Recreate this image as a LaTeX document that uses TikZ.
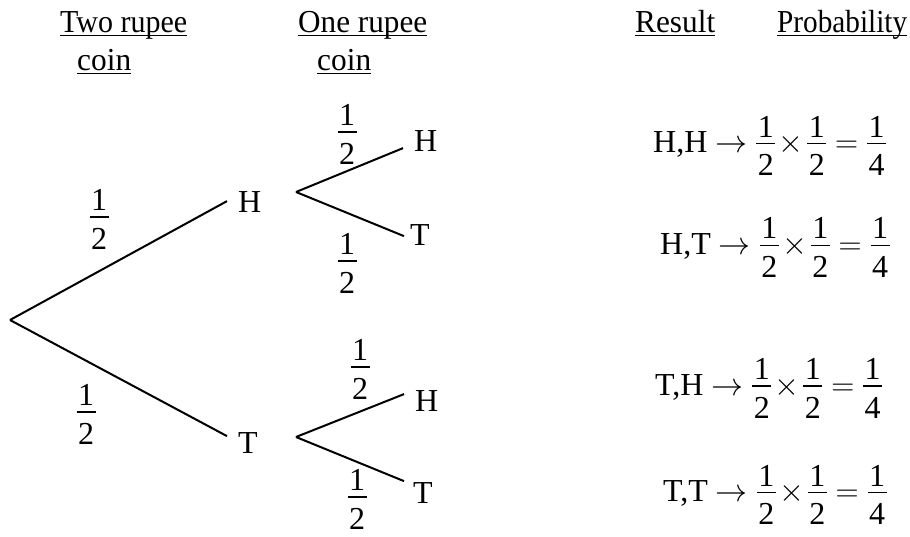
\RequirePackage{fix-cm}
\documentclass[tikz,border=0pt]{standalone}
\usepackage{amsmath}
\usepackage{graphicx}
\usepackage{fontspec}
\setmainfont{Liberation Serif}
% heading: text set to a given width, underlined just under the baseline
\newcommand\ulbox[2]{%
  \setbox0\hbox{\resizebox{#1}{\height}{#2}}%
  \rlap{\vrule height -2pt depth 3.5pt width \wd0}\box0}
% stacked fraction with its bar at the centre line
\newcommand\fracbox[2]{%
  \setbox1\hbox{#1}\setbox2\hbox{#2}%
  \dimen0=\ifdim\wd1>\wd2 \wd1\else\wd2\fi
  \advance\dimen0 by 3pt%
  \rlap{\hbox to\dimen0{\hss\raise0.2em\box1\hss}}%
  \rlap{\hbox to\dimen0{\hss\lower1.0em\box2\hss}}%
  \vrule height0.7pt depth0.7pt width\dimen0}
\newcommand\fr[2]{\mathord{\text{\raisebox{0.28em}{\fracbox{#1}{#2}}}}}
\newcommand\half{\fr{1}{2}}
\newcommand\by{\mkern-2mu\times\mkern-2mu}
\begin{document}
\begin{tikzpicture}[x=1pt,y=-1pt,
  font=\fontsize{32}{38}\selectfont,
  branch/.style={line width=2pt},
  leaf/.style={inner sep=0pt, anchor=base west},
  prob/.style={inner sep=0pt, anchor=base},
  result/.style={inner sep=0pt, anchor=base west},
  head/.style={inner sep=0pt, anchor=base west}]
\useasboundingbox (0,0) rectangle (910,537);

% column headings
\node[head] (c1a) at (60,33) {\ulbox{127pt}{Two rupee}};
\node[head] (c1b) at (77,71) {\ulbox{54pt}{coin}};
\node[head] (c2a) at (298,33) {\ulbox{129pt}{One rupee}};
\node[head] (c2b) at (317,71) {\ulbox{54pt}{coin}};
\node[head] (c3) at (635,33) {\ulbox{80pt}{Result}};
\node[head] (c4) at (777,33) {\ulbox{130pt}{Probability}};

% outcomes
\node[leaf] (H) at (238,213) {H};
\node[leaf] (T) at (238,453) {T};
\node[leaf] (HH) at (414,152) {H};
\node[leaf] (HT) at (410,246) {T};
\node[leaf] (TH) at (415,411) {H};
\node[leaf] (TT) at (413,503) {T};

% branching points
\coordinate (root) at (10,320);
\coordinate (sH) at (296,192);
\coordinate (sT) at (296,437);

% branches
\draw[branch] (root) -- ([shift={(-11pt,1.4pt)}]H.west);
\draw[branch] (root) -- ([shift={(-11pt,6.4pt)}]T.west);
\draw[branch] (sH) -- ([shift={(-11pt,-6.6pt)}]HH.west);
\draw[branch] (sH) -- ([shift={(-6pt,-0.6pt)}]HT.west);
\draw[branch] (sT) -- ([shift={(-11pt,6.4pt)}]TH.west);
\draw[branch] (sT) -- ([shift={(-9pt,11.4pt)}]TT.west);

% branch probabilities
\node[prob] (pH) at (99,226) {$\half$};
\node[prob] (pT) at (86,421) {$\half$};
\node[prob] (pHH) at (347,141) {$\half$};
\node[prob] (pHT) at (347,270) {$\half$};
\node[prob] (pTH) at (360,376) {$\half$};
\node[prob] (pTT) at (357,506) {$\half$};

% results
\node[result] (rHH) at (653,152.7) {H,H $\to \half\by\half=\fr{1}{4}$};
\node[result] (rHT) at (660,254.3) {H,T $\to \half\by\half=\fr{1}{4}$};
\node[result] (rTH) at (655,395) {T,H $\to \half\by\half=\fr{1}{4}$};
\node[result] (rTT) at (663,501.7) {T,T $\to \half\by\half=\fr{1}{4}$};
\end{tikzpicture}
\end{document}
